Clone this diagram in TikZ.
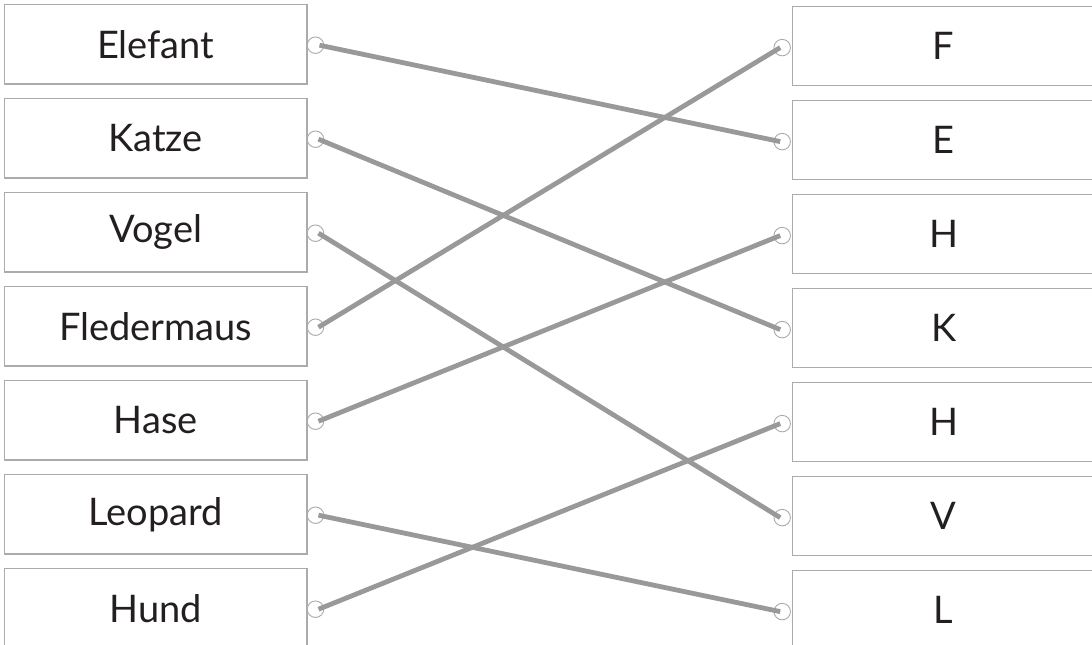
\documentclass[tikz,border=0pt]{standalone}
\usepackage{fontspec}
\setmainfont{Lato}
\usetikzlibrary{calc}
\definecolor{boxline}{HTML}{ABABAB}
\definecolor{conn}{HTML}{999999}
\definecolor{txt}{HTML}{231F20}
\begin{document}
\begin{tikzpicture}[x=1pt,y=-1pt,
  card/.style={draw=boxline, line width=1.3pt, fill=white, minimum width=302.7pt, minimum height=79.3pt, inner sep=0pt, text=txt, font=\fontsize{38}{40}\selectfont},
  dot/.style={draw=boxline, line width=0.9pt, fill=white, circle, minimum size=16.5pt, inner sep=0pt},
  link/.style={draw=conn, line width=4.8pt}]
\useasboundingbox (0,0) rectangle (1092,645);
\clip (0,0) rectangle (1092,645);
% left column
\foreach \i/\t in {1/Elefant,2/Katze,3/Vogel,4/Fledermaus,5/Hase,6/Leopard,7/Hund}{
  \node[card] (L\i) at (155.7, {44.4+94*(\i-1)}) {\t};
  \node[dot] (Lc\i) at (315.5, {45.2+94*(\i-1)}) {};
}
% right column
\foreach \i/\t in {1/F,2/E,3/H,4/K,5/H,6/V,7/L}{
  \node[card] (R\i) at (943.7, {45.8+94*(\i-1)}) {\t};
  \node[dot] (Rc\i) at (782.2, {47.6+94*(\i-1)}) {};
}
% connectors
\draw[link] ($(Lc1)+(4,0)$) -- ($(Rc2)+(-2,0)$);
\draw[link] ($(Lc2)+(3,0)$) -- ($(Rc4)+(-2,0)$);
\draw[link] ($(Lc3)+(3,0)$) -- ($(Rc6)+(-2,0)$);
\draw[link] ($(Lc4)+(3,0)$) -- ($(Rc1)+(-2,0)$);
\draw[link] ($(Lc5)+(3,0)$) -- ($(Rc3)+(-2,0)$);
\draw[link] ($(Lc6)+(3,0)$) -- ($(Rc7)+(-2,0)$);
\draw[link] ($(Lc7)+(3,0)$) -- ($(Rc5)+(-2,0)$);
\end{tikzpicture}
\end{document}
